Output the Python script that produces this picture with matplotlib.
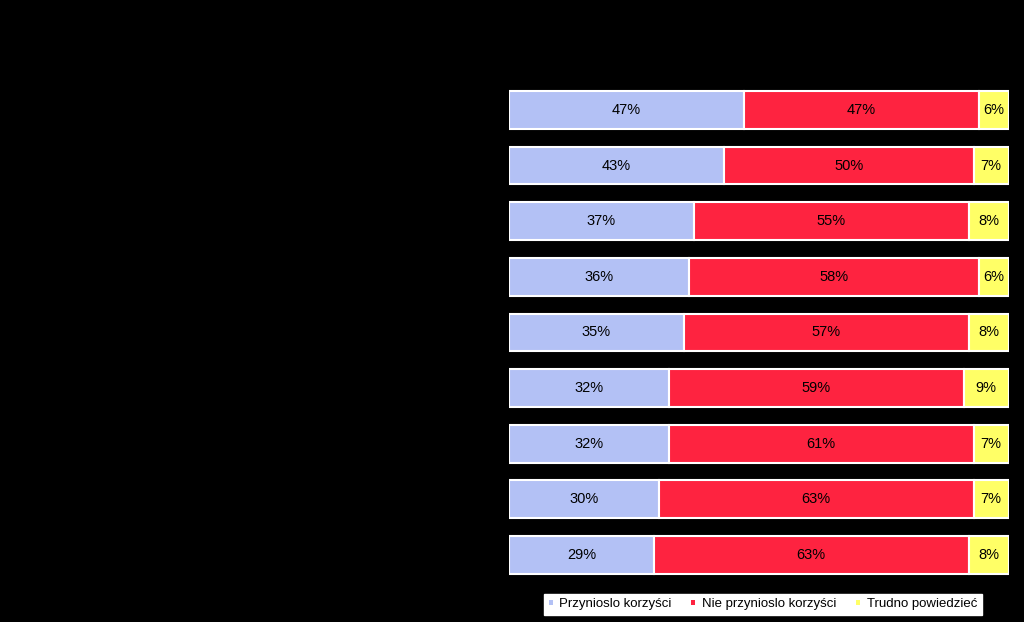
import numpy as np
import matplotlib
matplotlib.use("Agg")
import matplotlib.pyplot as plt
from matplotlib.patches import Patch

plt.rcParams['font.family'] = ['Liberation Sans', 'DejaVu Sans']

# category names are drawn black on black in the original, so none are shown
n_rows = 9
przynioslo = [47, 43, 37, 36, 35, 32, 32, 30, 29]
nie_przynioslo = [47, 50, 55, 58, 57, 59, 61, 63, 63]
trudno = [6, 7, 8, 6, 8, 9, 7, 7, 8]
series_names = ["Przynioslo korzyści", "Nie przynioslo korzyści", "Trudno powiedzieć"]
colors = ["#B3C1F5", "#FE2340", "#FFFF66"]

fig = plt.figure(figsize=(10.24, 6.22), dpi=100, facecolor="black")
ax = fig.add_axes([0.497, 0.063, 0.488, 0.805])
ax.set_facecolor("black")

y = np.arange(n_rows)
left = np.zeros(n_rows)
handles = []
for vals, name, col in zip([przynioslo, nie_przynioslo, trudno], series_names, colors):
    vals = np.array(vals, dtype=float)
    ax.barh(y, vals, left=left, height=0.68, color=col,
            edgecolor="white", linewidth=1.5)
    for yi, l, v in zip(y, left, vals):
        ax.text(l + v / 2, yi, "%d%%" % v, ha="center", va="center",
                fontsize=10.5, color="black")
    left += vals
    handles.append(Patch(facecolor=col, edgecolor="none", label=name))

ax.set_xlim(0, 100)
ax.set_ylim(n_rows - 0.5, -0.5)
ax.set_xticks([])
ax.set_yticks([])
for s in ax.spines.values():
    s.set_visible(False)

leg = fig.legend(handles=handles, loc="center", bbox_to_anchor=(0.745, 0.0285),
                 ncol=3, frameon=True, fancybox=False, framealpha=1, fontsize=9.5,
                 handlelength=0.3, handleheight=0.3, handletextpad=0.5,
                 columnspacing=1.5, borderpad=0.35, borderaxespad=0)
leg.get_frame().set_facecolor("white")
leg.get_frame().set_edgecolor("white")

fig.savefig("out.png", dpi=100, facecolor="black")
